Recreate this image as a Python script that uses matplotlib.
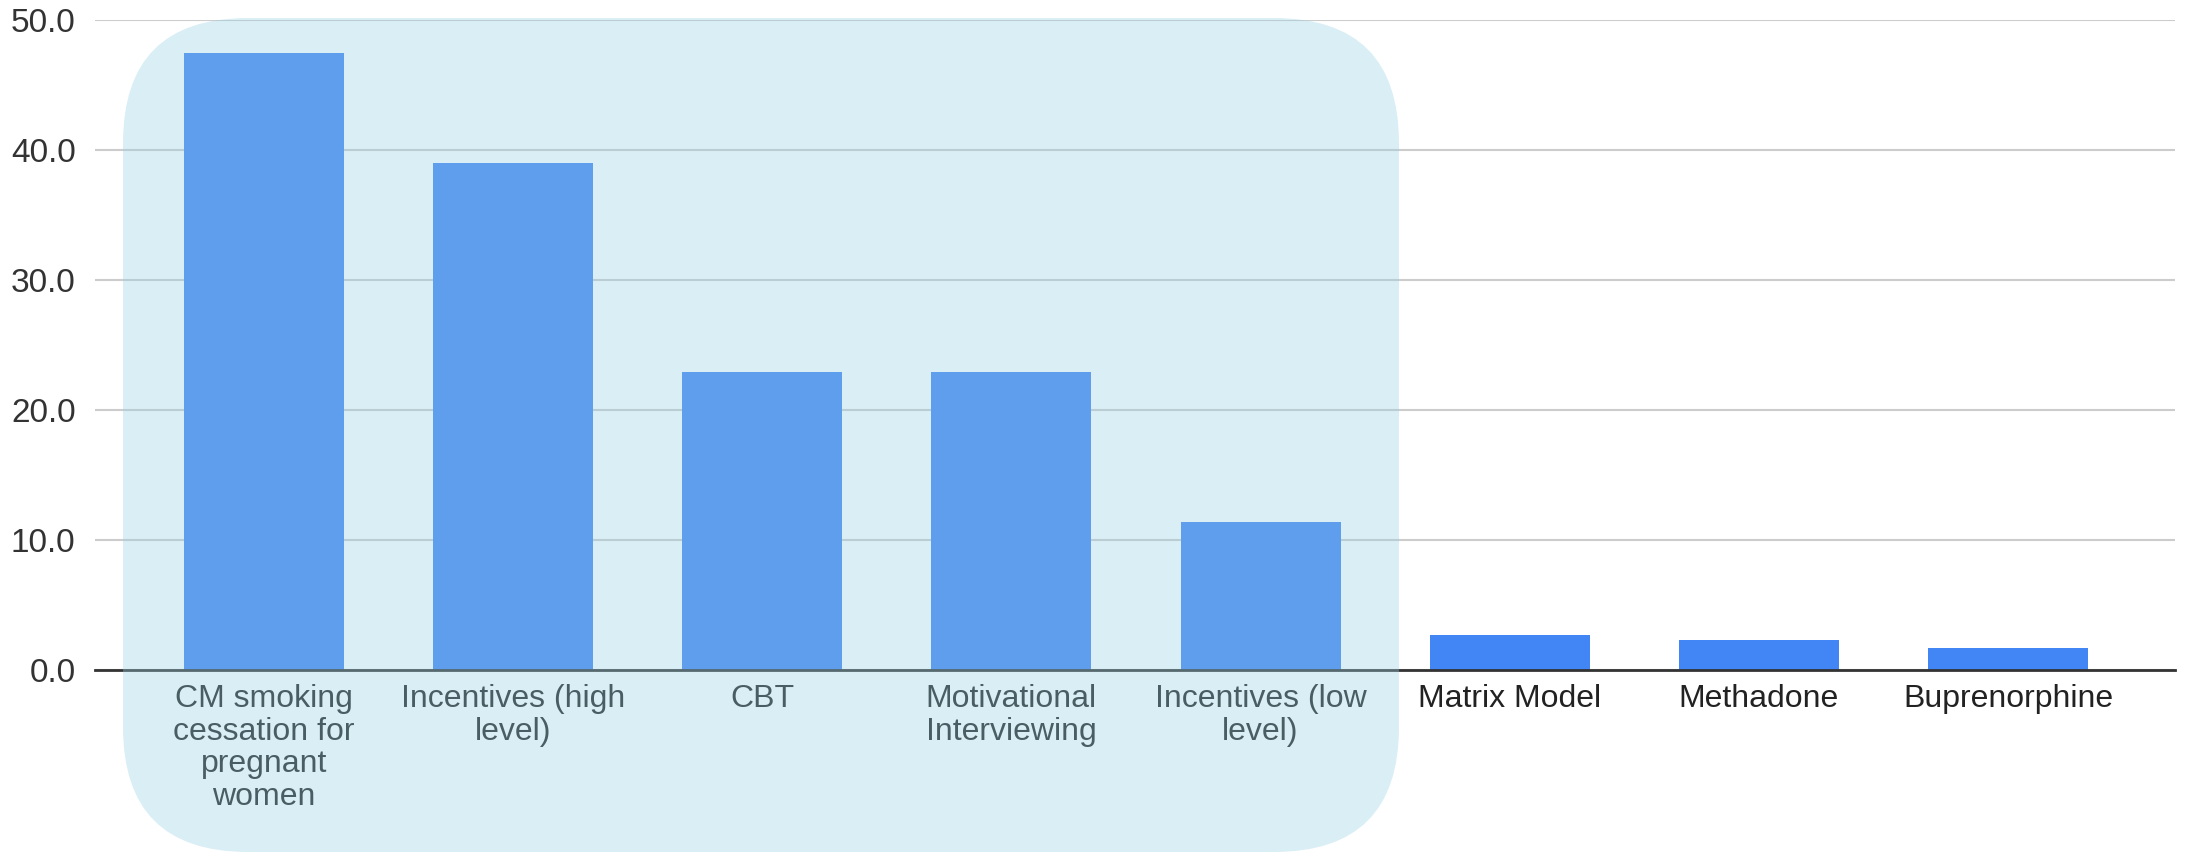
import matplotlib
matplotlib.use('Agg')
import matplotlib.pyplot as plt
from matplotlib.patches import FancyBboxPatch

plt.rcParams['font.family'] = ['Liberation Sans', 'DejaVu Sans']

categories = ['CM smoking\ncessation for\npregnant\nwomen', 'Incentives (high\nlevel)',
              'CBT', 'Motivational\nInterviewing', 'Incentives (low\nlevel)',
              'Matrix Model', 'Methadone', 'Buprenorphine']
values = [47.5, 39.0, 22.9, 22.9, 11.4, 2.7, 2.3, 1.7]
yticks = [0, 10, 20, 30, 40, 50]

barBlue = '#4285F4'
gridGrey = '#cccccc'

fig = plt.figure(figsize=(21.87, 8.57), dpi=100)
ax = fig.add_axes([95/2187, 187/857, 2080/2187, 650/857])

x = range(len(categories))
ax.bar(x, values, width=0.642, color=barBlue, zorder=3)

ax.set_xlim(-0.678, len(categories) - 0.33)
ax.set_ylim(0, 50)
ax.set_yticks(yticks)
ax.set_yticklabels(['%.1f' % v for v in yticks])
ax.set_xticks(list(x))
ax.set_xticklabels(categories, fontsize=23, color='#222222', linespacing=1.12)
ax.tick_params(axis='y', labelsize=24, colors='#333333', length=0, pad=14)
ax.tick_params(axis='x', length=0, pad=10)

ax.grid(axis='y', color=gridGrey, lw=1.5, zorder=0)
for side in ['top', 'right', 'left']:
    ax.spines[side].set_visible(False)
ax.spines['bottom'].set_color('#333333')
ax.spines['bottom'].set_linewidth(2)
ax.spines['bottom'].set_zorder(4)

# translucent rounded panel over the behavioural interventions
panel = FancyBboxPatch((1.23, 0.05), 12.76, 8.34,
                       boxstyle='round,pad=0,rounding_size=1.25',
                       transform=fig.dpi_scale_trans,
                       facecolor=(150/255, 208/255, 226/255), alpha=0.344,
                       edgecolor='none', zorder=5)
fig.add_artist(panel)

fig.savefig('out.png', dpi=100)
